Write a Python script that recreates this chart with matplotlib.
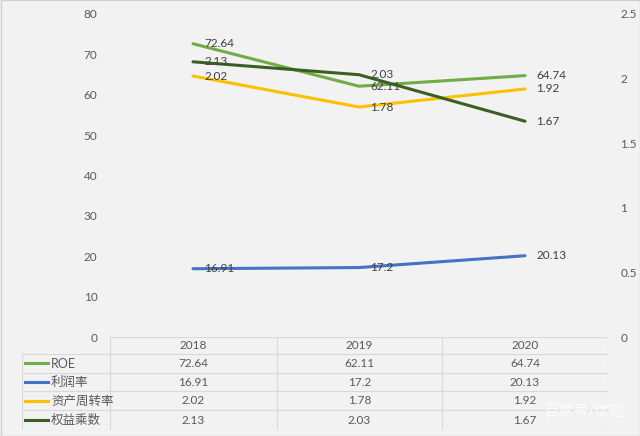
import matplotlib.pyplot as plt
from matplotlib.patches import Rectangle

# data
years = ['2018', '2019', '2020']
roe = [72.64, 62.11, 64.74]
profit = [16.91, 17.2, 20.13]
turnover = [2.02, 1.78, 1.92]
multiplier = [2.13, 2.03, 1.67]
names = ['ROE', '利润率', '资产周转率', '权益乘数']

colors = ['#70ad47', '#4472c4', '#ffc000', '#3a5f24']
txt = '#595959'
fam = ['Lato', 'Noto Sans CJK SC', 'DejaVu Sans']
plt.rcParams['font.family'] = fam

W, H = 640, 436
fig = plt.figure(figsize=(W / 100, H / 100), dpi=100)
fig.patch.set_facecolor('#f2f2f2')
fig.add_artist(Rectangle((0.5 / W, 0.5 / H), 1 - 1 / W, 1 - 1 / H, transform=fig.transFigure,
                         fill=False, edgecolor='#d0d0d0', lw=1))

x0, x1 = 110, 608
ytop, ybot = 14, 337
ax = fig.add_axes([x0 / W, (H - ybot) / H, (x1 - x0) / W, (ybot - ytop) / H])
ax2 = ax.twinx()
for a in (ax, ax2):
    a.set_facecolor('none')
    for s in a.spines.values():
        s.set_visible(False)
    a.tick_params(length=0, labelsize=8.5, labelcolor=txt, pad=9)
ax.set_xlim(-0.5, 2.5)
ax.set_ylim(0, 80)
ax.set_yticks(range(0, 81, 10))
ax2.set_ylim(0, 2.5)
ax2.set_yticks([0, 0.5, 1, 1.5, 2, 2.5])
ax2.set_yticklabels(['0', '0.5', '1', '1.5', '2', '2.5'])
ax.set_xticks([])
ax2.set_xticks([])

xs = list(range(len(years)))
series = [(ax, roe), (ax, profit), (ax2, turnover), (ax2, multiplier)]
for (a, vals), c in zip(series, colors):
    a.plot(xs, vals, color=c, lw=2.2, solid_capstyle='round')
    for xi, v in zip(xs, vals):
        a.annotate(f'{v:g}', (xi, v), xytext=(8, 0), textcoords='offset points',
                   va='center', ha='left', fontsize=8.5, color='#404040')

# data table below the plot
tx0, tx1 = 22, 608
ty0, ty1 = 337, 430
tax = fig.add_axes([tx0 / W, (H - ty1) / H, (tx1 - tx0) / W, (ty1 - ty0) / H])
tax.set_xlim(tx0, tx1)
tax.set_ylim(ty1, ty0)
tax.axis('off')
gc = '#d9d9d9'
col_edges = [110, 277, 442, 608]
row_edges = [337, 354, 373, 391, 410, 430]
tax.plot([110, tx1], [row_edges[0]] * 2, color=gc, lw=0.8)
for yv in row_edges[1:]:
    tax.plot([tx0, tx1], [yv, yv], color=gc, lw=0.8)
tax.plot([tx0, tx0], [row_edges[1], row_edges[-1]], color=gc, lw=0.8)
for xv in col_edges:
    tax.plot([xv, xv], [row_edges[0], row_edges[-1]], color=gc, lw=0.8)
for j, yr in enumerate(years):
    tax.text((col_edges[j] + col_edges[j + 1]) / 2, (row_edges[0] + row_edges[1]) / 2, yr,
             ha='center', va='center', fontsize=8.5, color=txt)
table_vals = [roe, profit, turnover, multiplier]
for i, (nm, vals, c) in enumerate(zip(names, table_vals, colors)):
    yc = (row_edges[i + 1] + row_edges[i + 2]) / 2
    tax.plot([25, 48], [yc, yc], color=c, lw=2.2)
    tax.text(51, yc, nm, ha='left', va='center', fontsize=9, color=txt)
    for j, v in enumerate(vals):
        tax.text((col_edges[j] + col_edges[j + 1]) / 2, yc, f'{v:g}',
                 ha='center', va='center', fontsize=8.5, color=txt)

fig.text(584 / W, 1 - 412 / H, '百家号/优迎', ha='center', va='center', fontsize=10.5,
         color='white', alpha=0.85)

fig.savefig('out.png', dpi=100, facecolor=fig.get_facecolor())
